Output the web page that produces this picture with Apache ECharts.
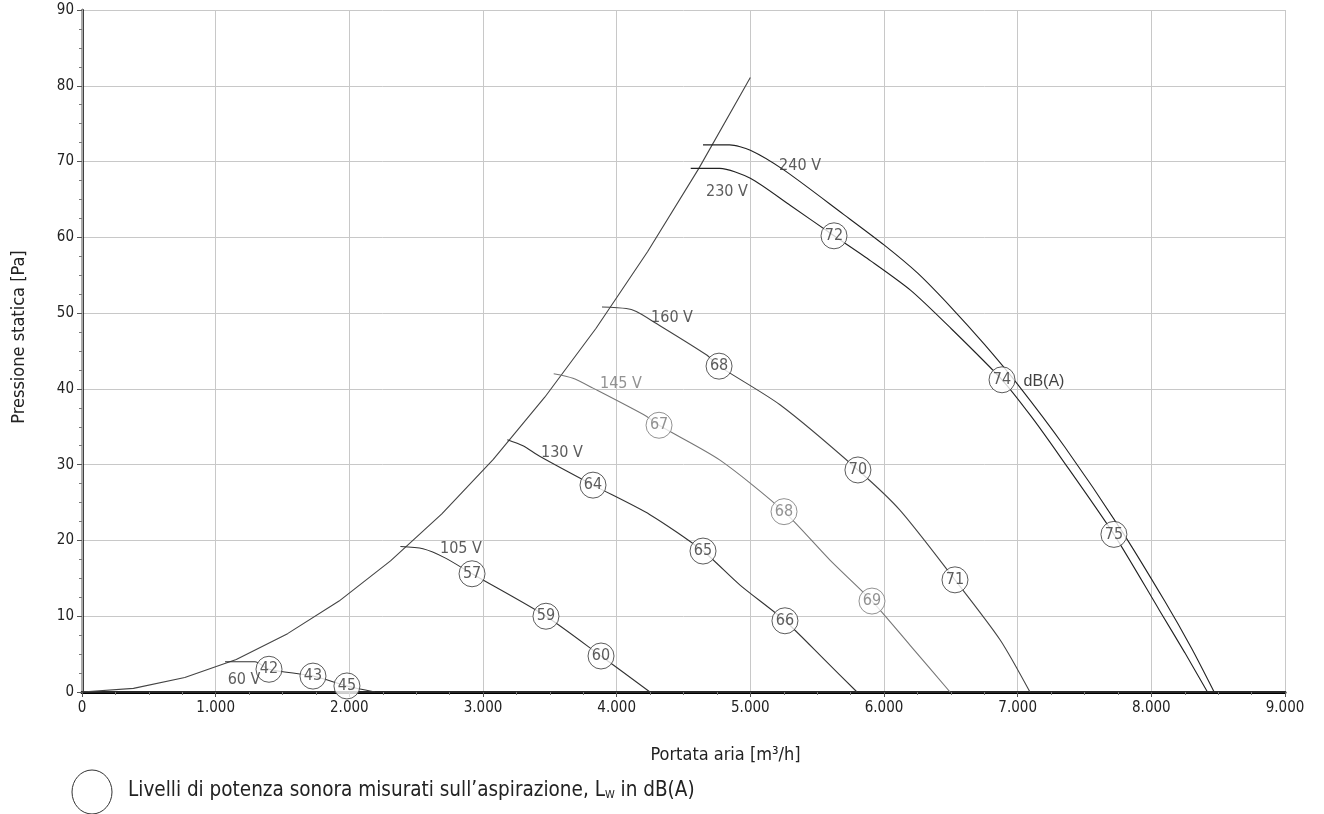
<!DOCTYPE html>
<html><head><meta charset="utf-8">
<script src="https://cdn.jsdelivr.net/npm/echarts@6/dist/echarts.min.js"></script>
<style>html,body{margin:0;padding:0;background:#fff}#c{width:1324px;height:814px}</style>
</head><body><div id="c"></div>
<script>
// ---- Data ----
const xTicks = [0,1000,2000,3000,4000,5000,6000,7000,8000,9000];
const yTicks = [0,10,20,30,40,50,60,70,80,90];

const systemCurve = [[0,0],[385,0.48],[769,1.92],[1154,4.3],[1538,7.7],[1923,12.0],[2308,17.3],[2692,23.5],[3077,30.7],[3462,38.9],[3846,48.0],[4231,58.1],[4615,69.1],[5000,81.1]];

const curve240 = [[4646,72.2],[4845,72.2],[5000,71.5],[5250,68.9],[5700,63.0],[6000,59.0],[6250,55.3],[6500,50.8],[6750,45.9],[7000,40.6],[7350,32.4],[7770,21.5],[8100,12.0],[8300,5.8],[8470,0]];
const curve230 = [[4554,69.1],[4771,69.1],[5000,67.8],[5300,64.2],[5626,60.2],[5900,56.9],[6200,53.0],[6500,48.0],[6883,41.2],[7100,36.4],[7320,31.0],[7720,20.8],[8060,10.8],[8250,5.2],[8420,0]];
const curve160 = [[3890,50.8],[4072,50.6],[4147,50.2],[4272,48.9],[4671,44.5],[4766,43.0],[5222,37.9],[5805,29.3],[6119,24.0],[6531,14.8],[6868,6.9],[7092,0]];
const curve145 = [[3529,42.0],[3673,41.4],[3823,40.1],[4222,36.4],[4317,35.2],[4773,30.6],[5252,23.8],[5596,17.4],[5910,12.0],[6194,6.2],[6494,0]];
const curve130 = [[3182,33.3],[3299,32.5],[3424,31.1],[3823,27.3],[4249,23.4],[4646,18.6],[4923,14.1],[5259,9.4],[5558,4.2],[5798,0]];
const curve105 = [[2382,19.2],[2551,18.9],[2716,17.7],[2918,15.6],[3471,10.0],[3883,4.75],[4249,0]];
const curve60  = [[1070,4.0],[1294,4.0],[1399,3.0],[1728,2.1],[1982,0.8],[2192,0]];

// sound level circles [x, y, dB]
const soundDark = [[5626,60.2,72],[6883,41.2,74],[7720,20.8,75],[4766,43.0,68],[5805,29.3,70],[6531,14.8,71],
  [3823,27.3,64],[4646,18.6,65],[5259,9.4,66],[2918,15.6,57],[3471,10.0,59],[3883,4.75,60],
  [1399,3.0,42],[1728,2.1,43],[1982,0.8,45]];
const soundGray = [[4317,35.2,67],[5252,23.8,68],[5910,12.0,69]];

// curve labels [x, y, text]
const voltLabels = [[5372,69.5,'240 V'],[4825,66.0,'230 V'],[4414,49.4,'160 V'],[4032,40.6,'145 V'],[3591,31.5,'130 V'],[2835,18.9,'105 V'],[1212,1.6,'60 V']];
const grayLabels = ['145 V'];

const FONT = '"Liberation Sans Narrow","DejaVu Sans Condensed","Noto Sans",sans-serif';
const chart = echarts.init(document.getElementById('c'));

function lineS(data, color, smooth){
  return {type:'line', data, smooth:smooth, symbol:'none', silent:true,
    lineStyle:{color, width:1.1}, z:3};
}

chart.setOption({
  animation:false,
  backgroundColor:'#fff',
  grid:{left:82, right:39, top:10, bottom:122, containLabel:false, outerBoundsMode:'none'},
  xAxis:[{
    type:'value', min:0, max:9000, interval:1000,
    axisLine:{show:true, onZero:false, lineStyle:{color:'#000', width:3}},
    axisTick:{show:true, length:5, lineStyle:{color:'#555'}},
    minorTick:{show:true, splitNumber:4, length:3, lineStyle:{color:'#777'}},
    splitLine:{show:true, lineStyle:{color:'#c8c8c8', width:1}},
    axisLabel:{color:'#222', fontSize:15, fontFamily:FONT, margin:9,
      formatter:v=> v===0?'0':(v/1000).toFixed(3)},
    name:'Portata aria [m³/h]', nameLocation:'middle', nameGap:54,
    nameTextStyle:{color:'#222', fontSize:18, fontFamily:FONT, padding:[0,0,0,84]}
  },{
    type:'value', position:'top', min:0, max:9000,
    axisLine:{show:true, lineStyle:{color:'#333', width:1.5}},
    axisTick:{show:false}, axisLabel:{show:false}, splitLine:{show:false}
  }],
  yAxis:[{
    type:'value', min:0, max:90, interval:10,
    axisLine:{show:true, onZero:false, lineStyle:{color:'#000', width:2.5}},
    axisTick:{show:true, length:5, lineStyle:{color:'#555'}},
    minorTick:{show:true, splitNumber:4, length:3, lineStyle:{color:'#777'}},
    splitLine:{show:true, lineStyle:{color:'#c8c8c8', width:1}},
    axisLabel:{color:'#222', fontSize:15, fontFamily:FONT, margin:8},
    name:'Pressione statica [Pa]', nameLocation:'middle', nameGap:54, nameRotate:90,
    nameTextStyle:{color:'#222', fontSize:18, fontFamily:FONT, padding:[0,0,0,28]}
  },{
    type:'value', position:'right', min:0, max:90,
    axisLine:{show:true, lineStyle:{color:'#aaa', width:2}},
    axisTick:{show:false}, axisLabel:{show:false}, splitLine:{show:false}
  }],
  series:[
    lineS(systemCurve,'#444', false),
    lineS(curve240,'#222', 0.25),
    lineS(curve230,'#222', 0.25),
    lineS(curve160,'#444', 0.25),
    lineS(curve145,'#777', 0.25),
    lineS(curve130,'#333', 0.25),
    lineS(curve105,'#333', 0.25),
    lineS(curve60,'#333', 0.25),
    {type:'scatter', data:soundDark, symbol:'circle', symbolSize:26, z:5, silent:true,
      itemStyle:{color:'#fff', borderColor:'#333', borderWidth:1},
      label:{show:true, position:'inside', color:'#333', fontSize:16, fontFamily:FONT,
        formatter:p=>p.value[2]}},
    {type:'scatter', data:soundGray, symbol:'circle', symbolSize:26, z:5, silent:true,
      itemStyle:{color:'#fff', borderColor:'#777', borderWidth:1},
      label:{show:true, position:'inside', color:'#777', fontSize:16, fontFamily:FONT,
        formatter:p=>p.value[2]}},
    {type:'scatter', symbolSize:0, z:6, silent:true,
      data: voltLabels.map(d=>({value:d, label:{color: grayLabels.includes(d[2])?'#777':'#333'}})),
      label:{show:true, position:'inside', fontSize:16, fontFamily:FONT,
        formatter:p=>p.value[2], color:'#333'},
      itemStyle:{color:'transparent'}},
    {type:'scatter', data:[[7197,41.0,'dB(A)']], symbolSize:0, z:6, silent:true,
      label:{show:true, position:'inside', fontSize:16, fontFamily:'"Liberation Sans",Arial,sans-serif',
        formatter:p=>p.value[2], color:'#111'},
      itemStyle:{color:'transparent'}}
  ],
  graphic:[
    {type:'ellipse', shape:{cx:92, cy:792, rx:20, ry:22}, style:{fill:'#fff', stroke:'#333', lineWidth:1}},
    {type:'text', left:128, top:780, style:{
      text:'Livelli di potenza sonora misurati sull’aspirazione, {a|L}{s|W} in dB(A)',
      fontSize:20.5, fontFamily:FONT, fill:'#222',
      rich:{a:{fontSize:20.5, fontFamily:FONT, fill:'#222'}, s:{fontSize:11, fontFamily:FONT, fill:'#222', padding:[10,0,0,0]}}
    }}
  ]
});
</script></body></html>
